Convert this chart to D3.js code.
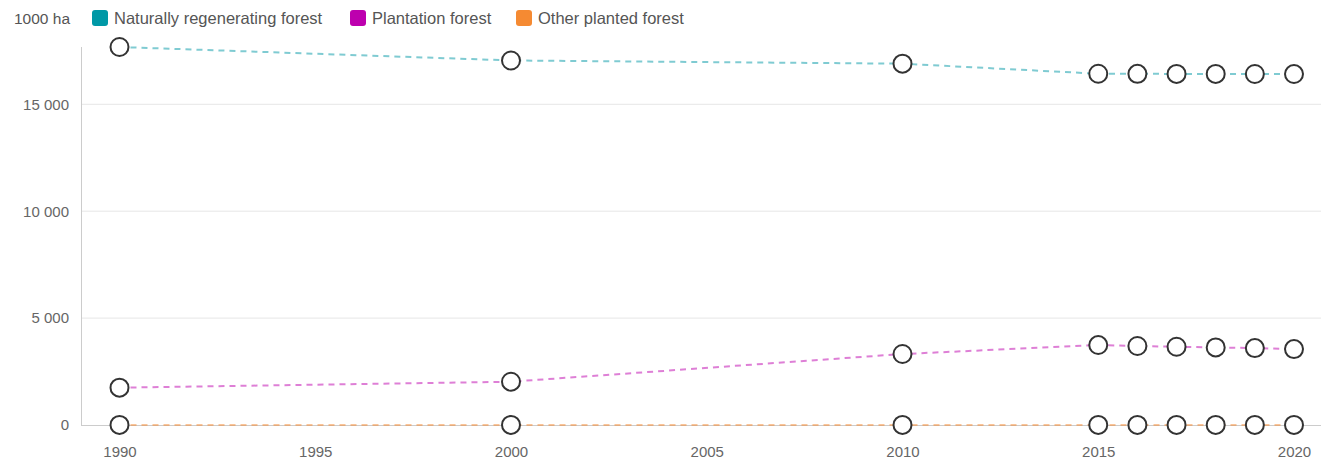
<!DOCTYPE html>
<html>
<head>
<meta charset="utf-8">
<script src="https://cdn.jsdelivr.net/npm/d3@7"></script>
<style>
	body { margin: 0; background: #fff; }
	svg { display: block; font-family: "Liberation Sans", Arial, sans-serif; }
</style>
</head>
<body>
<script>
'use strict';

// Chart data.
const years = [1990, 2000, 2010, 2015, 2016, 2017, 2018, 2019, 2020];
const naturalValues = [17680, 17050, 16900, 16430, 16425, 16422, 16420, 16418, 16415];
const plantationValues = [1745, 2025, 3320, 3740, 3695, 3660, 3630, 3598, 3552];
const otherPlantedValues = [5, 5, 5, 5, 5, 5, 5, 5, 5];
const seriesNames = ["Naturally regenerating forest", "Plantation forest", "Other planted forest"];
const seriesColors = ["#0098a6", "#bd00ae", "#f58a32"];
const xTicks = [1990, 1995, 2000, 2005, 2010, 2015, 2020];
const yTicks = [0, 5000, 10000, 15000];
const unitLabel = "1000 ha";

const width = 1321, height = 464;
const plotLeft = 81, plotRight = 1321, plotTop = 47, plotBottom = 425;

const svg = d3.select("body").append("svg")
	.attr("width", width)
	.attr("height", height);

const x = d3.scaleLinear()
	.domain([1990, 2020])
	.range([119.5, 1294]);

const y = d3.scaleLinear()
	.domain([0, 17680])
	.range([plotBottom, plotTop]);

// Horizontal grid lines
svg.append("g")
	.selectAll("line")
	.data(yTicks.filter(d => d > 0))
	.enter()
	.append("line")
	.attr("x1", plotLeft)
	.attr("x2", plotRight)
	.attr("y1", d => y(d))
	.attr("y2", d => y(d))
	.attr("stroke", "#e6e6e6")
	.attr("stroke-width", 1);

// Y axis
const yAxis = svg.append("g")
	.attr("transform", "translate(" + plotLeft + ",0)")
	.call(d3.axisLeft(y)
		.tickValues(yTicks)
		.tickSize(0)
		.tickPadding(12)
		.tickFormat(d => d3.format(",")(d).replace(/,/g, " ")));
yAxis.select(".domain")
	.attr("stroke", "#cccccc")
	.attr("d", "M0.5," + plotTop + "V" + plotBottom);
yAxis.selectAll("text")
	.attr("fill", "#666")
	.style("font-size", "15px");

// X axis
const xAxis = svg.append("g")
	.attr("transform", "translate(0," + plotBottom + ")")
	.call(d3.axisBottom(x)
		.tickValues(xTicks)
		.tickSize(0)
		.tickPadding(21)
		.tickFormat(d3.format("d")));
xAxis.select(".domain")
	.attr("stroke", "#cccccc")
	.attr("d", "M" + plotLeft + ",0.5H" + plotRight);
xAxis.selectAll("text")
	.attr("fill", "#666")
	.style("font-size", "15px");

// Series lines and markers
const allSeries = [naturalValues, plantationValues, otherPlantedValues];
const line = d3.line()
	.x((d, i) => x(years[i]))
	.y(d => y(d));

for (let s = 0; s < allSeries.length; s++)
{
	svg.append("path")
		.datum(allSeries[s])
		.attr("d", line)
		.attr("fill", "none")
		.attr("stroke", seriesColors[s])
		.attr("stroke-opacity", 0.5)
		.attr("stroke-width", 2)
		.attr("stroke-dasharray", "6,5");
}

for (let s = 0; s < allSeries.length; s++)
{
	svg.append("g")
		.selectAll("circle")
		.data(allSeries[s])
		.enter()
		.append("circle")
		.attr("cx", (d, i) => x(years[i]))
		.attr("cy", d => y(d))
		.attr("r", 9)
		.attr("fill", "#fff")
		.attr("stroke", "#333")
		.attr("stroke-width", 2);
}

// Unit label and legend
svg.append("text")
	.attr("x", 70)
	.attr("y", 24)
	.attr("text-anchor", "end")
	.attr("fill", "#555")
	.style("font-size", "15.5px")
	.text(unitLabel);

const legendX = [92, 350, 516];
const legend = svg.append("g")
	.selectAll("g")
	.data(seriesNames)
	.enter()
	.append("g")
	.attr("transform", (d, i) => "translate(" + legendX[i] + ",10)");
legend.append("rect")
	.attr("width", 16)
	.attr("height", 16)
	.attr("rx", 3)
	.attr("fill", (d, i) => seriesColors[i]);
legend.append("text")
	.attr("x", 22)
	.attr("y", 14)
	.attr("fill", "#555")
	.style("font-size", "16.5px")
	.text(d => d);
</script>
</body>
</html>
